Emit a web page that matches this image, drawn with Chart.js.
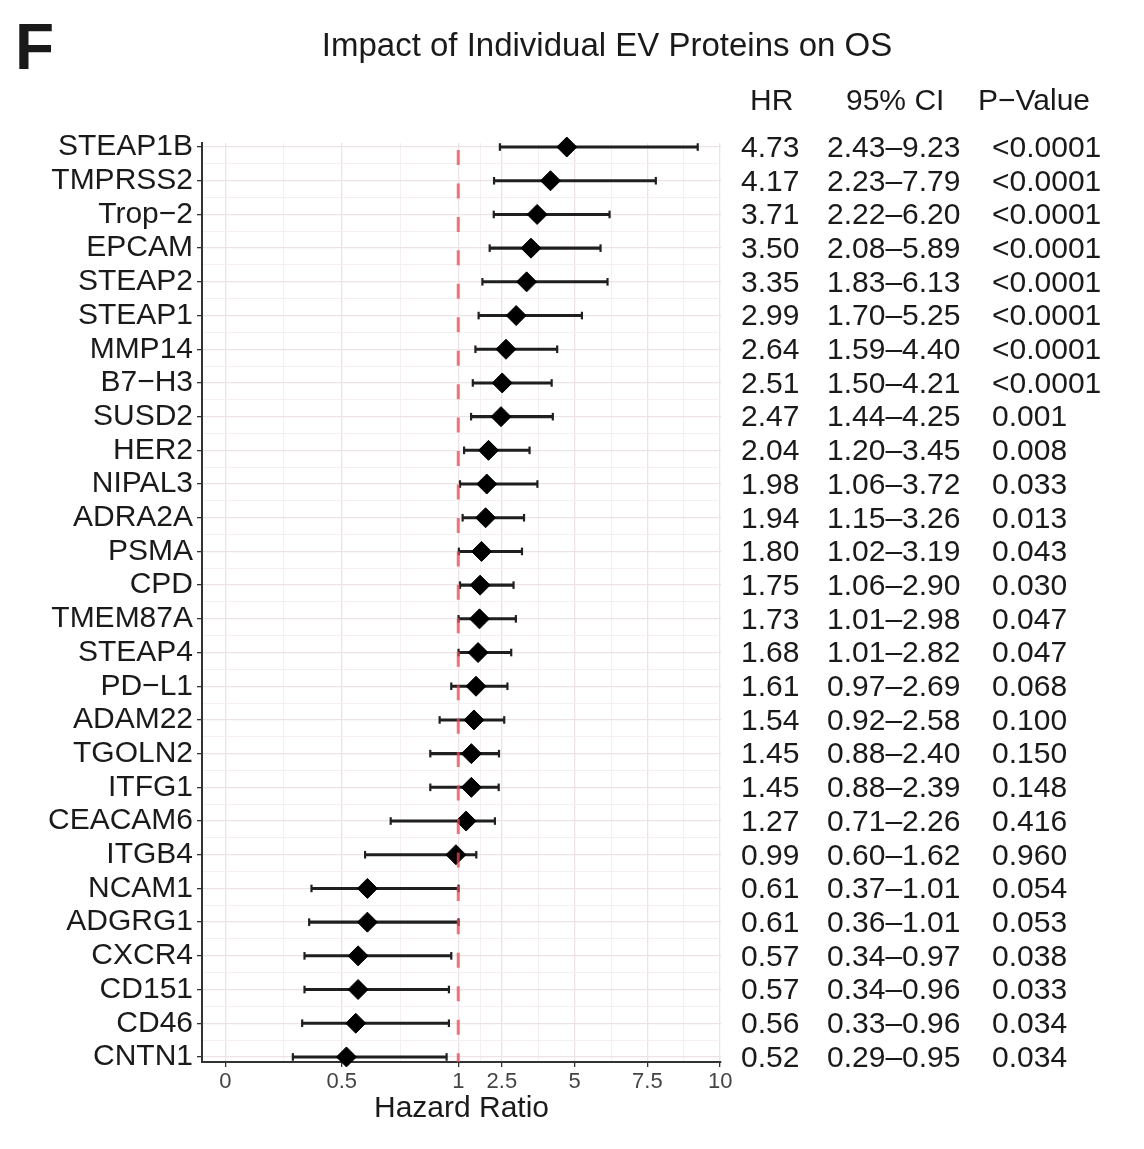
<!DOCTYPE html>
<html lang="en">
<head>
    <meta charset="UTF-8">
    <title>Impact of Individual EV Proteins on OS</title>
    <script src="https://cdn.jsdelivr.net/npm/chart.js@4.4.1/dist/chart.umd.min.js"></script>
    <style>
        body {
            margin: 0;
            background: #fff;
        }

        #wrap {
            width: 1144px;
            height: 1149px;
        }
    </style>
</head>
<body>
    <div id="wrap"><canvas id="forest" width="1144" height="1149"></canvas></div>

    <script>
        // Data, top row first
        const proteins = ['STEAP1B', 'TMPRSS2', 'Trop\u22122', 'EPCAM', 'STEAP2', 'STEAP1', 'MMP14', 'B7\u2212H3',
            'SUSD2', 'HER2', 'NIPAL3', 'ADRA2A', 'PSMA', 'CPD', 'TMEM87A', 'STEAP4', 'PD\u2212L1', 'ADAM22',
            'TGOLN2', 'ITFG1', 'CEACAM6', 'ITGB4', 'NCAM1', 'ADGRG1', 'CXCR4', 'CD151', 'CD46', 'CNTN1'];
        const hr = [4.73, 4.17, 3.71, 3.50, 3.35, 2.99, 2.64, 2.51, 2.47, 2.04, 1.98, 1.94, 1.80, 1.75,
            1.73, 1.68, 1.61, 1.54, 1.45, 1.45, 1.27, 0.99, 0.61, 0.61, 0.57, 0.57, 0.56, 0.52];
        const ciLow = [2.43, 2.23, 2.22, 2.08, 1.83, 1.70, 1.59, 1.50, 1.44, 1.20, 1.06, 1.15, 1.02, 1.06,
            1.01, 1.01, 0.97, 0.92, 0.88, 0.88, 0.71, 0.60, 0.37, 0.36, 0.34, 0.34, 0.33, 0.29];
        const ciHigh = [9.23, 7.79, 6.20, 5.89, 6.13, 5.25, 4.40, 4.21, 4.25, 3.45, 3.72, 3.26, 3.19, 2.90,
            2.98, 2.82, 2.69, 2.58, 2.40, 2.39, 2.26, 1.62, 1.01, 1.01, 0.97, 0.96, 0.96, 0.95];
        const pValues = ['<0.0001', '<0.0001', '<0.0001', '<0.0001', '<0.0001', '<0.0001', '<0.0001', '<0.0001',
            '0.001', '0.008', '0.033', '0.013', '0.043', '0.030', '0.047', '0.047', '0.068', '0.100',
            '0.150', '0.148', '0.416', '0.960', '0.054', '0.053', '0.038', '0.033', '0.034', '0.034'];

        // x breaks: majors carry a label, minors are blank
        const xTicks = [0, 0.25, 0.5, 0.75, 1, 1.75, 2.5, 3.75, 5, 6.25, 7.5, 8.75, 10];
        const xTickLabels = ['0', '', '0.5', '', '1', '', '2.5', '', '5', '', '7.5', '', '10'];

        const FONT = '"Liberation Sans", Arial, Helvetica, sans-serif';
        const INK = '#1a1a1a';
        const TABLE_X = { hr: 741, ci: 827, p: 992 };

        // axis is 0..1 on the left part and 1..10 squeezed on the right part
        const BREAK = 1;
        const SQUEEZE = 0.1249;
        function fold(v) { return v <= BREAK ? v : BREAK + (v - BREAK) * SQUEEZE; }
        function unfold(t) { return t <= BREAK ? t : BREAK + (t - BREAK) / SQUEEZE; }

        class BrokenScale extends Chart.LinearScale {
            configure() {
                super.configure();
                this._startValue = fold(this.min);
                this._endValue = fold(this.max);
                this._valueRange = this._endValue - this._startValue;
            }
            getPixelForValue(value) {
                return super.getPixelForValue(fold(value));
            }
            getValueForPixel(pixel) {
                return unfold(super.getValueForPixel(pixel));
            }
        }
        BrokenScale.id = 'broken';
        BrokenScale.defaults = Chart.LinearScale.defaults;
        Chart.register(BrokenScale);

        // row ticks plus the half steps for the minor grid
        const rowTicks = [];
        proteins.forEach((p, i) => {
            rowTicks.push(i);
            if (i < proteins.length - 1) rowTicks.push(i + 0.5);
        });

        const isMajorX = i => xTickLabels[i] !== '';
        const isMajorY = i => Number.isInteger(rowTicks[i]);

        // panel letter, title and the HR / CI / p table
        const sideTable = {
            id: 'sideTable',
            afterDraw(chart) {
                const { ctx } = chart;
                const y = chart.scales.y;
                ctx.save();
                ctx.fillStyle = INK;

                ctx.textBaseline = 'alphabetic';
                ctx.textAlign = 'left';
                ctx.font = 'bold 64px ' + FONT;
                ctx.fillText('F', 15, 69);

                ctx.textAlign = 'center';
                ctx.font = '33px ' + FONT;
                ctx.fillText('Impact of Individual EV Proteins on OS', 607, 56);

                ctx.textAlign = 'left';
                ctx.textBaseline = 'middle';
                ctx.font = '30px ' + FONT;
                ctx.fillText('HR', 750, 102);
                ctx.fillText('95% CI', 846, 102);
                ctx.fillText('P\u2212Value', 978, 102);

                proteins.forEach((p, i) => {
                    const py = y.getPixelForValue(i) + 1.5;
                    ctx.fillText(hr[i].toFixed(2), TABLE_X.hr, py);
                    ctx.fillText(ciLow[i].toFixed(2) + '\u2013' + ciHigh[i].toFixed(2), TABLE_X.ci, py);
                    ctx.fillText(pValues[i], TABLE_X.p, py);
                });
                ctx.restore();
            }
        };

        const lastRow = proteins.length - 1;

        new Chart(document.getElementById('forest'), {
            type: 'scatter',
            data: {
                datasets: [
                    {
                        // null line
                        type: 'line',
                        data: [{ x: 1, y: -0.12 }, { x: 1, y: lastRow + 0.15 }],
                        borderColor: 'rgba(232, 72, 84, 0.75)',
                        borderWidth: 3,
                        borderDash: [15, 18.45],
                        borderDashOffset: -7,
                        pointRadius: 0,
                        order: 0
                    },
                    {
                        // point estimates
                        type: 'scatter',
                        data: hr.map((v, i) => ({ x: v, y: i })),
                        pointStyle: 'rectRot',
                        pointRadius: 10,
                        backgroundColor: '#000',
                        borderColor: '#000',
                        borderWidth: 1,
                        clip: false,
                        order: 1
                    },
                    {
                        // whisker end caps
                        type: 'scatter',
                        data: proteins.flatMap((p, i) => [{ x: ciLow[i], y: i }, { x: ciHigh[i], y: i }]),
                        pointStyle: 'line',
                        rotation: 90,
                        pointRadius: 3.8,
                        borderColor: '#1f1f1f',
                        borderWidth: 2.2,
                        clip: false,
                        order: 2
                    },
                    {
                        // confidence intervals
                        type: 'bar',
                        indexAxis: 'y',
                        data: proteins.map((p, i) => ({ x: [ciLow[i], ciHigh[i]], y: i })),
                        backgroundColor: '#1f1f1f',
                        barThickness: 2.4,
                        borderWidth: 0,
                        clip: false,
                        order: 3
                    }
                ]
            },
            options: {
                responsive: false,
                animation: false,
                events: [],
                layout: {
                    padding: { top: 143, right: 423, bottom: 0, left: 0 }
                },
                plugins: {
                    legend: { display: false },
                    tooltip: { enabled: false }
                },
                scales: {
                    x: {
                        type: 'broken',
                        position: 'bottom',
                        offset: false,
                        min: -0.1,
                        max: 10.03,
                        afterBuildTicks: s => { s.ticks = xTicks.map(v => ({ value: v })); },
                        afterFit: s => { s.height = 87; },
                        ticks: {
                            autoSkip: false,
                            maxRotation: 0,
                            padding: 2,
                            color: '#444',
                            font: { family: FONT, size: 22 },
                            callback: (v, i) => xTickLabels[i]
                        },
                        grid: {
                            offset: false,
                            color: c => isMajorX(c.index) ? '#ede3e6' : '#f5eff1',
                            lineWidth: c => isMajorX(c.index) ? 1.3 : 1,
                            tickColor: c => isMajorX(c.index) ? '#333' : 'rgba(0,0,0,0)',
                            tickLength: 5
                        },
                        border: { display: true, color: '#333', width: 2 },
                        title: {
                            display: true,
                            text: 'Hazard Ratio',
                            color: INK,
                            font: { family: FONT, size: 30 },
                            padding: { top: 0, bottom: 22 }
                        }
                    },
                    y: {
                        type: 'linear',
                        reverse: true,
                        offset: false,
                        min: -0.12,
                        max: lastRow + 0.15,
                        afterBuildTicks: s => { s.ticks = rowTicks.map(v => ({ value: v })); },
                        afterFit: s => { s.width = 202; },
                        ticks: {
                            autoSkip: false,
                            padding: 4,
                            color: INK,
                            font: { family: FONT, size: 30 },
                            callback: (v, i) => isMajorY(i) ? proteins[rowTicks[i]] : ''
                        },
                        grid: {
                            offset: false,
                            color: c => isMajorY(c.index) ? '#ede3e6' : '#f5eff1',
                            lineWidth: c => isMajorY(c.index) ? 1.3 : 1,
                            tickColor: c => isMajorY(c.index) ? '#333' : 'rgba(0,0,0,0)',
                            tickLength: 5
                        },
                        border: { display: true, color: '#333', width: 2 }
                    }
                }
            },
            plugins: [sideTable]
        });
    </script>
</body>
</html>
